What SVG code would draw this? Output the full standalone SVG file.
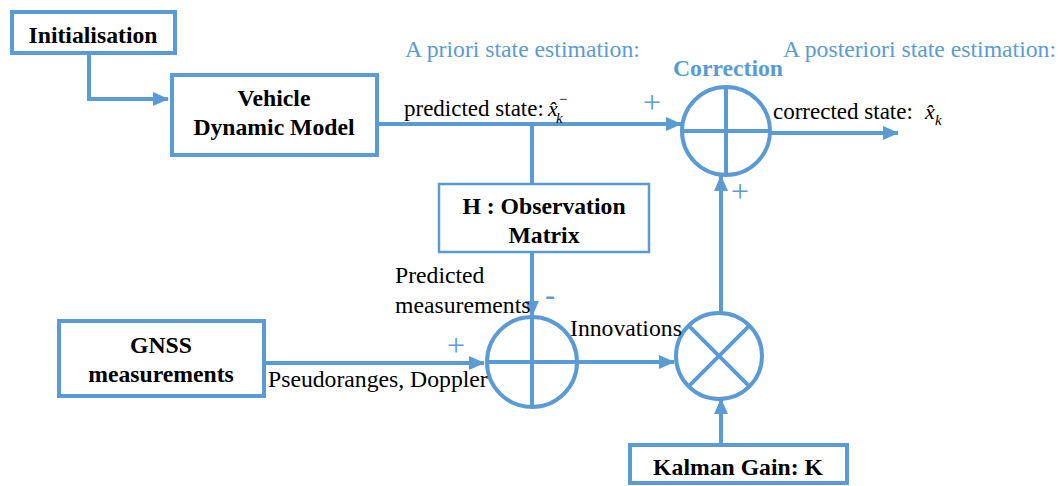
<svg xmlns="http://www.w3.org/2000/svg" width="1062" height="486" viewBox="0 0 1062 486">
<style>
.box{fill:#fff;stroke:#5B9BD5;stroke-width:4}
.thin{stroke-width:2.5}
.ln{fill:none;stroke:#5B9BD5;stroke-width:4}
text{font-family:'Liberation Serif','Times New Roman',serif}
.t{font-size:23.7px;fill:#000}
.s{font-size:23px}
.b{font-weight:bold;text-anchor:middle}
.blue{fill:#5B9BD5}
.sign{font-size:32px;fill:#5B9BD5;text-anchor:middle}
.m{font-style:italic;fill:#000}
</style>
<defs>
<marker id="ah" markerUnits="userSpaceOnUse" markerWidth="16" markerHeight="14" refX="15" refY="7" orient="auto">
<path d="M0,0 L16,7 L0,14 Z" fill="#5B9BD5"/>
</marker>
</defs>
<rect width="1062" height="486" fill="#fff"/>
<g id="connectors">
<path class="ln" d="M89,55 V99 H168" marker-end="url(#ah)"/>
<path class="ln" d="M379,124 H681" marker-end="url(#ah)"/>
<path class="ln" d="M532,124 V184"/>
<path class="ln" d="M532,253 V316" marker-end="url(#ah)"/>
<path class="ln" d="M266,363 H484" marker-end="url(#ah)"/>
<path class="ln" d="M578,362 H674" marker-end="url(#ah)"/>
<path class="ln" d="M721,443 V399" marker-end="url(#ah)"/>
<path class="ln" d="M721,313 V176" marker-end="url(#ah)"/>
<path class="ln" d="M771,133 H898" marker-end="url(#ah)"/>
</g>
<g id="initialisation">
<rect class="box" x="12" y="12" width="163" height="41"/>
<text class="t b" x="93" y="43">Initialisation</text>
</g>
<g id="vehicle-model">
<rect class="box" x="172" y="75" width="205" height="80"/>
<text class="t b" x="274" y="106">Vehicle</text>
<text class="t b" x="274" y="135">Dynamic Model</text>
</g>
<g id="observation-matrix">
<rect class="box thin" x="439" y="184" width="210" height="68"/>
<text class="t b" x="544" y="214">H : Observation</text>
<text class="t b" x="544" y="243">Matrix</text>
</g>
<g id="gnss">
<rect class="box" x="59" y="321" width="205" height="75"/>
<text class="t b" x="161" y="353">GNSS</text>
<text class="t b" x="161" y="382">measurements</text>
</g>
<g id="kalman-gain">
<rect class="box" x="630" y="445" width="217" height="38"/>
<text class="t b" x="738" y="475">Kalman Gain: K</text>
</g>
<g id="correction-sum">
<circle class="ln" cx="726" cy="131" r="44"/>
<path class="ln" d="M726,87 V175 M682,131 H770"/>
<text class="t b blue" x="728" y="76">Correction</text>
</g>
<g id="innovation-sum">
<circle class="ln" cx="532" cy="362" r="45"/>
<path class="ln" d="M532,317 V407 M487,362 H577"/>
</g>
<g id="gain-multiply">
<circle class="ln" cx="719" cy="356" r="43"/>
<path class="ln" d="M688.6,325.6 L749.4,386.4 M749.4,325.6 L688.6,386.4"/>
</g>
<g id="labels">
<text class="t blue" x="405" y="57">A priori state estimation:</text>
<text class="t blue" x="783" y="57">A posteriori state estimation:</text>
<text class="t s" x="404" y="116">predicted state: <tspan class="m" x="548" font-size="22">x̂</tspan><tspan class="m" x="556" dy="7" font-size="15">k</tspan><tspan x="559" dy="-19" font-size="15">−</tspan></text>
<text class="t s" x="773" y="119">corrected state: <tspan class="m" x="925" font-size="22">x̂</tspan><tspan class="m" x="935" dy="6" font-size="15">k</tspan></text>
<text class="t" x="395" y="283">Predicted</text>
<text class="t" x="395" y="313">measurements</text>
<text class="t" x="570" y="336" font-size="24">Innovations</text>
<text class="t" x="268" y="387" font-size="24">Pseudoranges, Doppler</text>
<text class="sign" x="652" y="113">+</text>
<text class="sign" x="740" y="202">+</text>
<text class="sign" x="456" y="356">+</text>
<text x="550" y="306" font-size="32" fill="#5B9BD5" text-anchor="middle" style="font-family:'Liberation Sans',sans-serif">-</text>
</g>
</svg>
